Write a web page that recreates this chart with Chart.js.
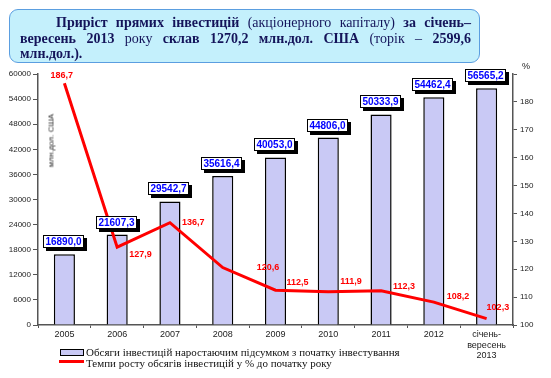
<!DOCTYPE html>
<html><head><meta charset="utf-8">
<script src="https://cdn.jsdelivr.net/npm/chart.js@4.4.0/dist/chart.umd.min.js"></script>
<style>
html,body{margin:0;padding:0;background:#fff;width:551px;height:378px;overflow:hidden;}
#wrap{position:relative;width:551px;height:378px;}
#c{position:absolute;left:0;top:0;}
#title{position:absolute;left:9px;top:9px;width:471px;height:54px;box-sizing:border-box;
  border:1.5px solid #5b9ee0;border-radius:9px;background:#c4f0fc;
  padding:5px 8px 0 10px;font-family:"Liberation Serif","Times New Roman",serif;font-size:14px;
  line-height:15.5px;color:#14145a;z-index:2;}
#title .ln{text-align:justify;text-align-last:justify;}
#title .l1{padding-left:36px;}
#title b{font-weight:bold;}
.leg{position:absolute;font-family:"Liberation Serif","Times New Roman",serif;font-size:11px;color:#111;white-space:nowrap;z-index:2;}
.ylab{position:absolute;font-family:"Liberation Sans",Arial,sans-serif;font-size:8px;color:#222;white-space:nowrap;z-index:2;}
</style></head>
<body><div id="wrap">
<canvas id="c" width="551" height="378"></canvas>
<div id="title">
<div class="ln l1"><b>Приріст прямих інвестицій</b> (акціонерного капіталу) <b>за січень–</b></div>
<div class="ln"><b>вересень 2013</b> року <b>склав 1270,2 млн.дол. США</b> (торік – <b>2599,6</b></div>
<div><b>млн.дол.).</b></div>
</div>
<div style="position:absolute;left:60px;top:349px;width:22px;height:5px;background:#c9c9f5;border:1px solid #000;z-index:2"></div>
<div class="leg" style="left:86px;top:346px;">Обсяги інвестицій наростаючим підсумком з початку інвестування</div>
<div style="position:absolute;left:59px;top:360px;width:25px;height:3px;background:#ff0000;z-index:2"></div>
<div class="leg" style="left:86px;top:357px;">Темпи росту обсягів інвестицій у % до початку року</div>
<div class="ylab" style="left:23px;top:136px;transform:rotate(-90deg);transform-origin:50% 50%;width:56px;text-align:center;">млн.дол. США</div>
<div class="ylab" style="left:522px;top:61px;font-size:9px;">%</div>
</div>
<script>
const categories = ['2005','2006','2007','2008','2009','2010','2011','2012',['січень-','вересень','2013']];
const investments = [16890.0, 21607.3, 29542.7, 35616.4, 40053.0, 44806.0, 50333.9, 54462.4, 56565.2];
const growth = [186.7, 127.9, 136.7, 120.6, 112.5, 111.9, 112.3, 108.2, 102.3];
const leftTicks = {min:0, max:60000, step:6000};
const rightTicks = {min:100, max:190, step:10};
// label offsets for the growth-rate labels (left edge dx, centre dy) relative to point
const growthLabelOffset = [[-14,-8],[12,7],[12,0],[34,0],[11,-8],[12,-10],[12,-4],[13,-6],[0,-11]];

const fmt = v => v.toFixed(1).replace('.', ',');

const labelPlugin = {
  id:'labels',
  afterDraw(chart){
    const ctx = chart.ctx;
    const barMeta = chart.getDatasetMeta(0);
    const lineMeta = chart.getDatasetMeta(1);
    ctx.save();
    ctx.font = 'bold 10px "Liberation Sans", Arial, sans-serif';
    ctx.textBaseline = 'middle';
    barMeta.data.forEach((el,i)=>{
      const txt = fmt(investments[i]);
      const w = Math.round(ctx.measureText(txt).width) + 5;
      const h = 13;
      const x = Math.round(el.x - w/2 - 1);
      const y = Math.round(el.y - 6 - h);
      ctx.fillStyle = '#000'; ctx.fillRect(x+3, y+3, w, h);
      ctx.fillStyle = '#fff'; ctx.fillRect(x, y, w, h);
      ctx.strokeStyle = '#000'; ctx.lineWidth = 1; ctx.strokeRect(x+0.5, y+0.5, w-1, h-1);
      ctx.fillStyle = '#0000ff'; ctx.textAlign = 'center';
      ctx.fillText(txt, x + w/2, y + h/2 + 0.5);
    });
    ctx.font = 'bold 9px "Liberation Sans", Arial, sans-serif';
    ctx.fillStyle = '#ff0000'; ctx.textAlign = 'left';
    lineMeta.data.forEach((el,i)=>{
      const o = growthLabelOffset[i];
      ctx.fillText(fmt(growth[i]), el.x + o[0], el.y + o[1]);
    });
    ctx.restore();
  }
};

new Chart(document.getElementById('c'), {
  data: {
    labels: categories,
    datasets: [
      {type:'bar', label:'Обсяги інвестицій наростаючим підсумком з початку інвестування',
       data: investments, yAxisID:'y', backgroundColor:'#c9c9f5', borderColor:'#000', borderWidth:1.5,
       barPercentage:0.4, categoryPercentage:1, order:2},
      {type:'line', label:'Темпи росту обсягів інвестицій у % до початку року',
       data: growth, yAxisID:'y1', borderColor:'#ff0000', borderWidth:3, pointRadius:0,
       tension:0, fill:false, order:1}
    ]
  },
  options: {
    responsive:false, animation:false, devicePixelRatio:1,
    layout:{padding:{top:74,left:0,right:0,bottom:0}},
    plugins:{legend:{display:false}, tooltip:{enabled:false}, title:{display:false}},
    scales:{
      x:{
        grid:{offset:true, drawOnChartArea:false, drawTicks:true, tickLength:3, color:'#555'},
        border:{display:true, color:'#555', width:1.5},
        ticks:{font:{family:'"Liberation Sans", Arial, sans-serif', size:9}, color:'#222', padding:1, maxRotation:0, autoSkip:false},
        afterFit(s){ s.height = 53; }
      },
      y:{
        position:'left', min:leftTicks.min, max:leftTicks.max,
        grid:{drawOnChartArea:false, drawTicks:true, tickLength:5, color:'#555'},
        border:{display:true, color:'#555', width:1.5},
        ticks:{stepSize:leftTicks.step, font:{family:'"Liberation Sans", Arial, sans-serif', size:8}, color:'#222', padding:2,
          callback:v => String(v)},
        afterFit(s){ s.width = 38; }
      },
      y1:{
        position:'right', min:rightTicks.min, max:rightTicks.max,
        grid:{drawOnChartArea:false, drawTicks:true, tickLength:4, color:'#555'},
        border:{display:true, color:'#555', width:1.5},
        ticks:{stepSize:rightTicks.step, font:{family:'"Liberation Sans", Arial, sans-serif', size:8}, color:'#222', padding:3,
          callback:v => v === rightTicks.max ? '' : String(v)},
        afterFit(s){ s.width = 38; }
      }
    }
  },
  plugins:[labelPlugin]
});
</script>
</body></html>
